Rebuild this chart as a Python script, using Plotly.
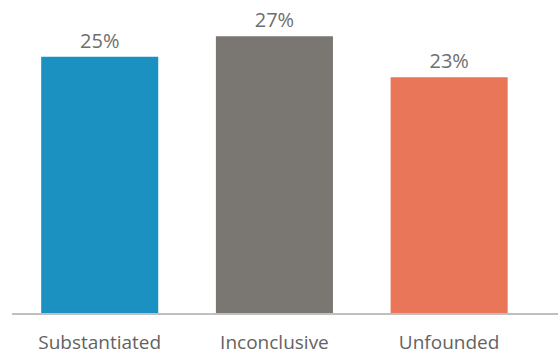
import plotly.graph_objects as go

categories = ["Substantiated", "Inconclusive", "Unfounded"]
values = [25, 27, 23]
colors = ["#1a91c1", "#7a7672", "#e97658"]

fig = go.Figure(go.Bar(
    x=categories, y=values,
    marker=dict(color=colors, line=dict(width=0)),
    text=[f"{v}%" for v in values],
    textposition="outside",
    constraintext="none",
    textfont=dict(family="Open Sans", size=20, color="#6e6e6e"),
    cliponaxis=False,
))
fig.update_layout(
    width=558, height=354,
    margin=dict(l=12, r=0, t=0, b=41),
    paper_bgcolor="white", plot_bgcolor="white",
    bargap=0.33, showlegend=False,
    xaxis=dict(range=[-0.502, 2.623], showline=True, linecolor="#bfbfbf", linewidth=1.5,
               showgrid=False, ticks="", ticklabelstandoff=11, automargin=False,
               tickfont=dict(family="Open Sans", size=19, color="#636363")),
    yaxis=dict(range=[0, 30.54], visible=False, automargin=False),
)
fig.write_html("out.html")
